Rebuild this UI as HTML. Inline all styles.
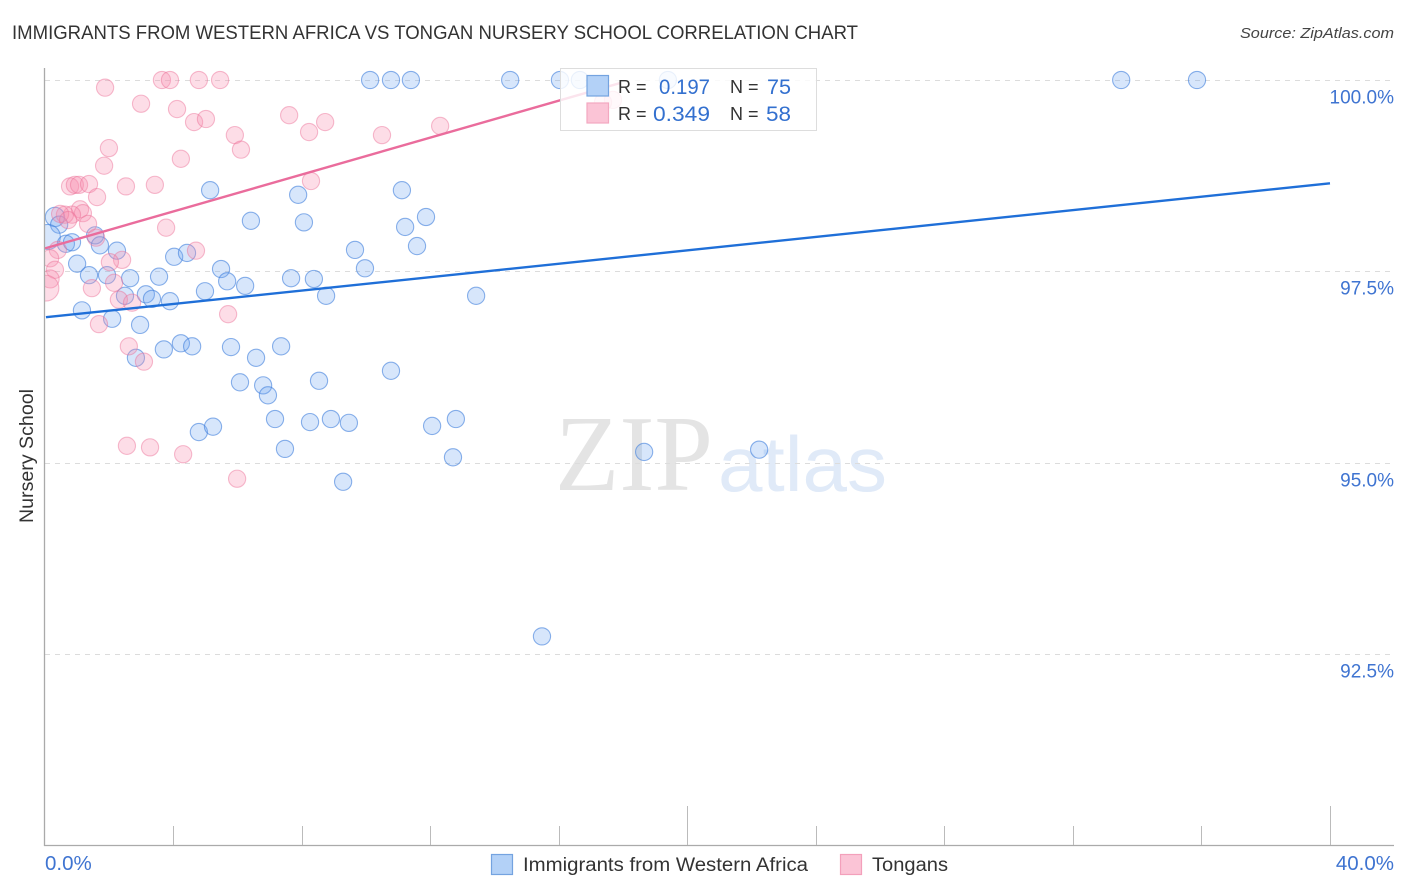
<!DOCTYPE html>
<html>
<head>
<meta charset="utf-8">
<title>Immigrants from Western Africa vs Tongan Nursery School Correlation Chart</title>
<style>
html,body{margin:0;padding:0;background:#fff;}
svg{display:block;font-family:"Liberation Sans",sans-serif;}
</style>
</head>
<body>
<svg id="chart" xmlns="http://www.w3.org/2000/svg" width="1406" height="892" viewBox="0 0 1406 892">
  <defs>
    <clipPath id="plot-clip"><rect x="45" y="60" width="1349" height="786"/></clipPath>
  </defs>
  <text x="12" y="39" font-size="19" fill="#333" textLength="846" lengthAdjust="spacingAndGlyphs">IMMIGRANTS FROM WESTERN AFRICA VS TONGAN NURSERY SCHOOL CORRELATION CHART</text>
  <text x="1394" y="38" font-size="15" font-style="italic" fill="#444" text-anchor="end" textLength="154" lengthAdjust="spacingAndGlyphs">Source: ZipAtlas.com</text>
  <text x="555" y="490" font-size="108" font-family="'Liberation Serif',serif" fill="#e4e4e4" textLength="158" lengthAdjust="spacingAndGlyphs">ZIP</text>
  <text x="718" y="491" font-size="78" fill="#e0eaf8" textLength="169" lengthAdjust="spacingAndGlyphs">atlas</text>
  <g id="grid"></g>
  <g id="blue-points" clip-path="url(#plot-clip)"></g>
  <g id="pink-points" clip-path="url(#plot-clip)"></g>
  <g id="trends"></g>
  <g id="axes"></g>
  <text transform="translate(33,456) rotate(-90)" font-size="19" fill="#333" text-anchor="middle" textLength="134" lengthAdjust="spacingAndGlyphs">Nursery School</text>

  <g>
    <rect x="560.5" y="68.5" width="256" height="62" fill="#fff" fill-opacity="0.82" stroke="#ddd"/>
    <rect x="587" y="75.5" width="21.5" height="20.5" fill="#b3d1f7" stroke="#74a3e0" stroke-width="1.2"/>
    <rect x="587" y="103" width="21.5" height="20" fill="#fbc4d6" stroke="#f3a8c0" stroke-width="1.2"/>
    <text x="618" y="93" font-size="18" fill="#333">R =</text>
    <text x="659" y="94" font-size="21" fill="#3370cf" textLength="51" lengthAdjust="spacingAndGlyphs">0.197</text>
    <text x="730" y="93" font-size="18" fill="#333">N =</text>
    <text x="767" y="94" font-size="21" fill="#3370cf" textLength="24" lengthAdjust="spacingAndGlyphs">75</text>
    <text x="618" y="120" font-size="18" fill="#333">R =</text>
    <text x="653" y="121" font-size="21" fill="#3370cf" textLength="57" lengthAdjust="spacingAndGlyphs">0.349</text>
    <text x="730" y="120" font-size="18" fill="#333">N =</text>
    <text x="766" y="121" font-size="21" fill="#3370cf" textLength="25" lengthAdjust="spacingAndGlyphs">58</text>
  </g>

  <g>
    <rect x="491.5" y="854.5" width="21" height="20" fill="#b3d1f7" stroke="#74a3e0" stroke-width="1.2"/>
    <text x="523" y="871" font-size="19" fill="#333" textLength="285" lengthAdjust="spacingAndGlyphs">Immigrants from Western Africa</text>
    <rect x="840.5" y="854.5" width="21" height="20" fill="#fbc4d6" stroke="#f3a0bb" stroke-width="1.2"/>
    <text x="872" y="871" font-size="19" fill="#333" textLength="76" lengthAdjust="spacingAndGlyphs">Tongans</text>
  </g>
</svg>
<script>
const blueX = [0.31,0.44,0.09,0.65,0.84,1.15,1.00,1.37,1.56,1.71,1.93,2.09,2.24,2.49,2.65,2.96,2.83,3.14,3.33,3.55,3.89,3.70,4.02,4.23,4.42,4.58,4.98,5.14,5.48,5.67,5.79,6.23,6.41,6.07,6.57,6.79,6.94,7.35,7.66,7.88,8.06,8.37,8.75,8.53,7.16,7.47,8.25,8.90,9.46,9.28,9.65,9.96,10.77,11.11,11.21,11.58,11.86,12.05,12.79,12.70,13.42,4.79,5.23,10.12,10.77,11.39,14.48,16.03,16.65,19.39,18.65,22.23,15.47,33.50,35.86];
const blueY = [98.21,98.11,97.95,97.86,97.88,96.99,97.60,97.45,97.97,97.84,97.45,96.88,97.77,97.18,97.41,96.80,96.37,97.20,97.14,97.43,97.11,96.48,97.69,96.56,97.74,96.52,97.24,98.56,97.53,97.37,96.51,97.31,98.16,96.05,96.37,96.01,95.88,96.52,97.41,98.50,98.14,97.40,97.18,96.07,95.57,95.18,95.53,95.57,95.52,94.75,97.78,97.54,96.20,98.56,98.08,97.83,98.21,95.48,95.57,95.07,97.18,95.40,95.47,100,100,100,100,100,100,100,95.14,95.17,92.73,100,100];
const blueWeight = [1.12,1,1.45];
const pinkX = [1.87,2.99,3.64,3.89,4.79,5.45,4.11,4.64,5.01,5.91,6.10,7.60,8.22,8.72,1.99,1.84,4.23,0.78,0.93,1.06,1.37,2.52,3.42,1.62,8.28,1.09,1.18,0.84,0.62,0.47,0.72,1.34,1.59,3.77,4.70,2.40,2.02,0.40,0.16,0.31,0.16,0.03,1.46,2.15,2.30,2.71,1.68,2.61,3.08,5.70,2.55,3.27,4.30,5.98,10.49,12.30,17.68,17.37];
const pinkY = [99.90,99.69,100,100,100,100,99.62,99.45,99.49,99.28,99.09,99.54,99.32,99.45,99.11,98.88,98.97,98.61,98.63,98.63,98.64,98.61,98.63,98.47,98.68,98.31,98.26,98.24,98.24,98.25,98.17,98.12,97.94,98.07,97.77,97.65,97.62,97.78,97.67,97.52,97.40,97.28,97.28,97.35,97.13,97.09,96.81,96.52,96.32,96.94,95.22,95.20,95.11,94.79,99.28,99.40,99.74,99.71];
const pinkWeight = {40:1.05,41:1.5};
const blueTrendX = [0.03,40];
const blueTrendY = [96.90,98.65];
const pinkTrendX = [0,17.9];
const pinkTrendY = [97.80,99.96];
const yTicks = [100,97.5,95,92.5];
const yTickLabels = ["100.0%","97.5%","95.0%","92.5%"];
const xTicks = [0,4,8,12,16,20,24,28,32,36,40];
const xMajorTicks = [0,20,40];
const xEndLabels = ["0.0%","40.0%"];

const NS = 'http://www.w3.org/2000/svg';
function xScale(v){ return 45 + v * 32.125; }
function yScale(v){ return 80 + (100 - v) * 76.53; }
function make(tag, attrs, parent){
  const el = document.createElementNS(NS, tag);
  for (const k in attrs) el.setAttribute(k, attrs[k]);
  parent.appendChild(el);
  return el;
}
const gridG = document.getElementById('grid');
const axesG = document.getElementById('axes');
const blueG = document.getElementById('blue-points');
const pinkG = document.getElementById('pink-points');
const trendG = document.getElementById('trends');

yTicks.forEach(function(t, i){
  const py = Math.round(yScale(t)) + 0.5;
  const line = make('line', {x1:45, x2:1394, y1:py, y2:py, stroke:'#dcdcdc', 'stroke-width':1, 'stroke-dasharray':'5 5'}, gridG);
  
  
  const label = make('text', {x:1394, y:py + 23, 'font-size':19, fill:'#3f74d1', 'text-anchor':'end'}, axesG);
  
  
  label.textContent = yTickLabels[i];
});

blueX.forEach(function(v, i){
  const w = blueWeight[i] || 1;
  const c = make('circle', {cx:xScale(v), cy:yScale(blueY[i]), r:8.6 * w, fill:'#6ea6ef', 'fill-opacity':0.28, stroke:'#3f7fdc', 'stroke-opacity':0.6, 'stroke-width':1.1}, blueG);
  
  
});
pinkX.forEach(function(v, i){
  const w = pinkWeight[i] || 1;
  const c = make('circle', {cx:xScale(v), cy:yScale(pinkY[i]), r:8.6 * w, fill:'#f78fb0', 'fill-opacity':0.3, stroke:'#ec6c95', 'stroke-opacity':0.45, 'stroke-width':1.1}, pinkG);
  
  
});

const blueTrend = make('line', {x1:xScale(blueTrendX[0]), y1:yScale(blueTrendY[0]), x2:xScale(blueTrendX[1]), y2:yScale(blueTrendY[1]), stroke:'#1f6fd8', 'stroke-width':2.4}, trendG);


const pinkTrend = make('line', {x1:xScale(pinkTrendX[0]), y1:yScale(pinkTrendY[0]), x2:xScale(pinkTrendX[1]), y2:yScale(pinkTrendY[1]), stroke:'#ea6c9c', 'stroke-width':2.4}, trendG);



const yAxis = make('line', {x1:44.5, x2:44.5, y1:68, y2:846, stroke:'#aaa', 'stroke-width':1.3}, axesG);


const xAxis = make('line', {x1:44, x2:1394, y1:845.5, y2:845.5, stroke:'#aaa', 'stroke-width':1.3}, axesG);


xTicks.forEach(function(t){
  if (t === 0) return;
  const px = Math.floor(xScale(t)) + 0.5;
  const top = xMajorTicks.indexOf(t) >= 0 ? 806 : 826;
  const tick = make('line', {x1:px, x2:px, y1:top, y2:845, stroke:'#bbb', 'stroke-width':1}, axesG);
  
  
});
const xStart = make('text', {x:45, y:870, 'font-size':20.5, fill:'#3f74d1'}, axesG);


xStart.textContent = xEndLabels[0];
const xEnd = make('text', {x:1394, y:870, 'font-size':20.5, fill:'#3f74d1', 'text-anchor':'end'}, axesG);


xEnd.textContent = xEndLabels[1];
</script>
</body>
</html>
